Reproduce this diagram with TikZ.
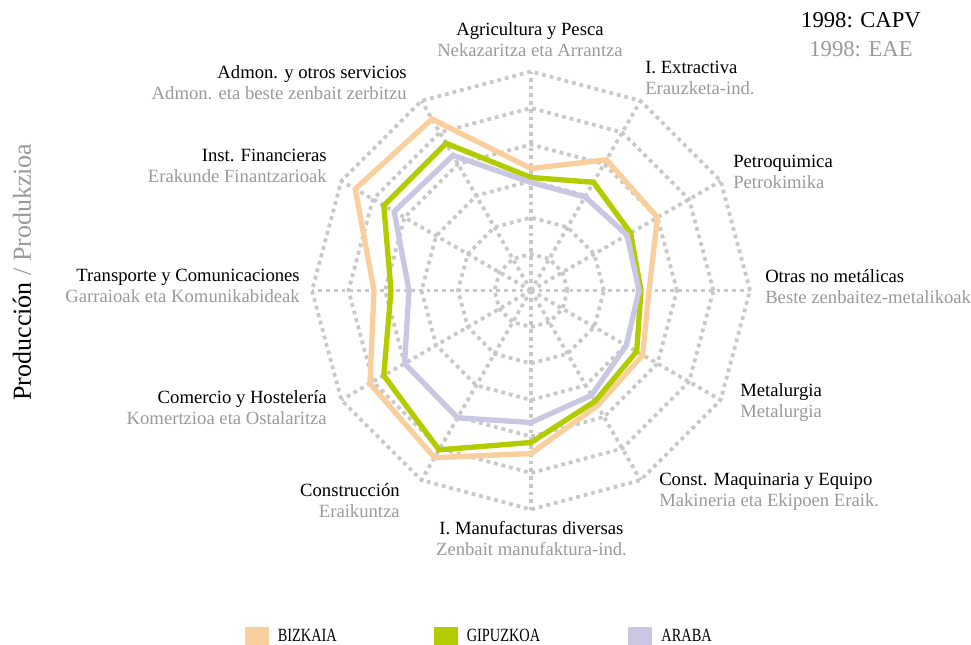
\documentclass[tikz,border=0pt]{standalone}
\usepackage{fontspec}
\setmainfont{Liberation Serif}
\newfontfamily\legfont[FakeStretch=0.77]{Liberation Serif}
\usetikzlibrary{positioning}
\definecolor{bizk}{HTML}{F9CF9E}
\definecolor{gipu}{HTML}{B3CC00}
\definecolor{arab}{HTML}{CAC7E3}
\definecolor{gridgray}{HTML}{C8C8C8}
\definecolor{basq}{HTML}{9A9A9A}
\newcommand{\lab}[2]{#1\\\textcolor{basq}{#2}}
\tikzset{%
gridline/.style={draw=gridgray,line width=2.8pt,dash pattern=on 2.8pt off 3pt},
series/.style={line width=4pt},
bizkaia/.style={series,draw=bizk},
gipuzkoa/.style={series,draw=gipu},
araba/.style={series,draw=arab},
axislabel/.style={font=\fontsize{14}{15.75}\selectfont,inner sep=0pt,align=#1},
legbox/.style={minimum width=18pt,minimum height=18pt,inner sep=0pt,anchor=north west},
legtext/.style={font=\legfont\fontsize{14}{16}\selectfont,inner sep=0pt,anchor=north west}
}

\begin{document}
\begin{tikzpicture}[x=0.75pt,y=0.75pt]

    \useasboundingbox (-531,-353.5) rectangle (440,290.5);
    \coordinate (c) at (0,0);

    \foreach \r in {1,...,6}
      \draw[gridline] (0:\r*36.5) \foreach \a in {30,60,...,330} { -- (\a:\r*36.5) } -- cycle;
    \foreach \a in {0,30,...,330}
      \draw[gridline] (c) -- (\a:219);

    \draw[bizkaia] (90:122) -- (60:151) -- (30:146) -- (0:118) -- (-30:129) -- (-60:133)
                -- (-90:163) -- (-120:193) -- (-150:186) -- (180:157) -- (150:203) -- (120:198) -- cycle;
    \draw[gipuzkoa] (90:113) -- (60:125) -- (30:115) -- (0:110) -- (-30:122) -- (-60:128)
                -- (-90:152) -- (-120:184) -- (-150:170) -- (180:140) -- (150:170) -- (120:170) -- cycle;
    \draw[araba] (90:108) -- (60:108) -- (30:111) -- (0:108) -- (-30:110) -- (-60:121)
                -- (-90:132) -- (-120:147) -- (-150:146) -- (180:122) -- (150:158) -- (120:156) -- cycle;

    \node[axislabel=center] (agri) at (-1,250.5) {\lab{Agricultura y Pesca}{Nekazaritza eta Arrantza}};
    \node[axislabel=left,anchor=west] (extr) at (114,213) {\lab{I. Extractiva}{Erauzketa-ind.}};
    \node[axislabel=left,anchor=west] (petro) at (202,119) {\lab{Petroquimica}{Petrokimika}};
    \node[axislabel=left,anchor=west] (otras) at (234,4) {\lab{Otras no metálicas}{Beste zenbaitez-metalikoak}};
    \node[axislabel=left,anchor=west] (metal) at (209,-112.5) {\lab{Metalurgia}{Metalurgia}};
    \node[axislabel=left,anchor=west] (maqui) at (128,-201) {\lab{Const. Maquinaria y Equipo}{Makineria eta Ekipoen Eraik.}};
    \node[axislabel=center] (manuf) at (0.5,-248.5) {\lab{I. Manufacturas diversas}{Zenbait manufaktura-ind.}};
    \node[axislabel=right,anchor=east] (constr) at (-131,-210.5) {\lab{Construcción}{Eraikuntza}};
    \node[axislabel=right,anchor=east] (comer) at (-204,-117.5) {\lab{Comercio y Hostelería}{Komertzioa eta Ostalaritza}};
    \node[axislabel=right,anchor=east] (trans) at (-231,5) {\lab{Transporte y Comunicaciones}{Garraioak eta Komunikabideak}};
    \node[axislabel=right,anchor=east] (finan) at (-204,125) {\lab{Inst. Financieras}{Erakunde Finantzarioak}};
    \node[axislabel=right,anchor=east] (admon) at (-124,207.5) {\lab{Admon. y otros servicios}{Admon. eta beste zenbait zerbitzu}};

    \node[font=\fontsize{17}{21.75}\selectfont,align=center,inner sep=0pt] (title) at (330,255.5) {\lab{1998: CAPV}{1998: EAE}};
    \node[rotate=90,font=\fontsize{19.5}{22}\selectfont,inner sep=0pt] (prod) at (-509,18.5) {Producción \textcolor{basq}{/ Produkzioa}};

    \node[legbox,fill=bizk] (bizbox) at (-286,-336.5) {};
    \node[legtext] (biztxt) at ([xshift=6pt,yshift=-1.5pt]bizbox.north east) {BIZKAIA};
    \node[legbox,fill=gipu] (gipbox) at (-97,-336.5) {};
    \node[legtext] (giptxt) at ([xshift=6pt,yshift=-1.5pt]gipbox.north east) {GIPUZKOA};
    \node[legbox,fill=arab] (arabox) at (97,-336.5) {};
    \node[legtext] (aratxt) at ([xshift=6.5pt,yshift=-1.5pt]arabox.north east) {ARABA};

\end{tikzpicture}
\end{document}
